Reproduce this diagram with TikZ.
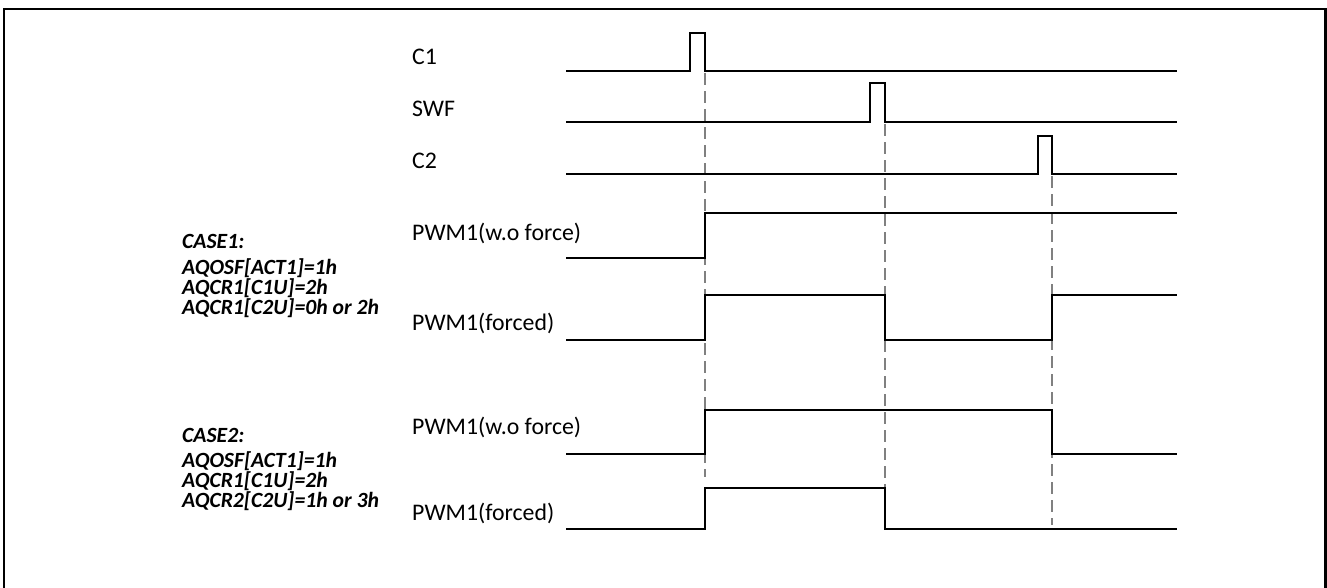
\documentclass[tikz,border=0pt]{standalone}
\usepackage{fontspec}
\setmainfont{Carlito}
\begin{document}
\begin{tikzpicture}[x=1pt,y=-1pt,
  sig/.style={line width=2pt, black, line join=miter},
  guide/.style={line width=1.7pt, black!50, dash pattern=on 12pt off 6pt},
  frame/.style={line width=2.8pt, black},
  lbl/.style={anchor=base west, inner sep=0pt, font=\fontsize{23.8}{27}\selectfont},
  casetxt/.style={anchor=base west, inner sep=0pt, font=\fontsize{21.7}{20}\selectfont\bfseries\itshape}]
\useasboundingbox (0,0) rectangle (1327,587);
\draw[frame] (4,590) -- (4,9) -- (1325.5,9) -- (1325.5,590);

% guide coordinates
\coordinate (g1a) at (705,73);  \coordinate (g1b) at (705,477);
\coordinate (g2a) at (885,124); \coordinate (g2b) at (885,488);
\coordinate (g3a) at (1052,176);\coordinate (g3b) at (1052,525);
\draw[guide] (g1a) -- (g1b);
\draw[guide] (g2a) -- (g2b);
\draw[guide] (g3a) -- (g3b);

% signal labels
\node[lbl] (lc1) at (412,64) {C1};
\node[lbl] (lswf) at (412,116) {SWF};
\node[lbl] (lc2) at (412,168) {C2};
\node[lbl] (lwo1) at (412,240) {PWM1(w.o force)};
\node[lbl] (lf1) at (412,330) {PWM1(forced)};
\node[lbl] (lwo2) at (412,434) {PWM1(w.o force)};
\node[lbl] (lf2) at (412,520) {PWM1(forced)};

% case texts
\node[casetxt] (case1) at (182,248) {CASE1:};
\node[casetxt] (c1l1) at (182,274) {AQOSF[ACT1]=1h};
\node[casetxt] (c1l2) at (182,294) {AQCR1[C1U]=2h};
\node[casetxt] (c1l3) at (182,314) {AQCR1[C2U]=0h or 2h};
\node[casetxt] (case2) at (182,442) {CASE2:};
\node[casetxt] (c2l1) at (182,467) {AQOSF[ACT1]=1h};
\node[casetxt] (c2l2) at (182,487) {AQCR1[C1U]=2h};
\node[casetxt] (c2l3) at (182,507) {AQCR2[C2U]=1h or 3h};

% waveforms
\draw[sig] (566,71) -- (690,71) -- (690,33) -- (705,33) -- (705,71) -- (1177,71);
\draw[sig] (566,122) -- (870,122) -- (870,83) -- (885,83) -- (885,122) -- (1177,122);
\draw[sig] (566,174) -- (1038,174) -- (1038,136) -- (1052,136) -- (1052,174) -- (1177,174);
\draw[sig] (566,258) -- (705,258) -- (705,213) -- (1177,213);
\draw[sig] (566,340) -- (705,340) -- (705,295) -- (885,295) -- (885,340) -- (1052,340) -- (1052,295) -- (1177,295);
\draw[sig] (566,454) -- (705,454) -- (705,410) -- (1052,410) -- (1052,454) -- (1177,454);
\draw[sig] (566,529) -- (705,529) -- (705,488) -- (885,488) -- (885,529) -- (1177,529);
\end{tikzpicture}
\end{document}
